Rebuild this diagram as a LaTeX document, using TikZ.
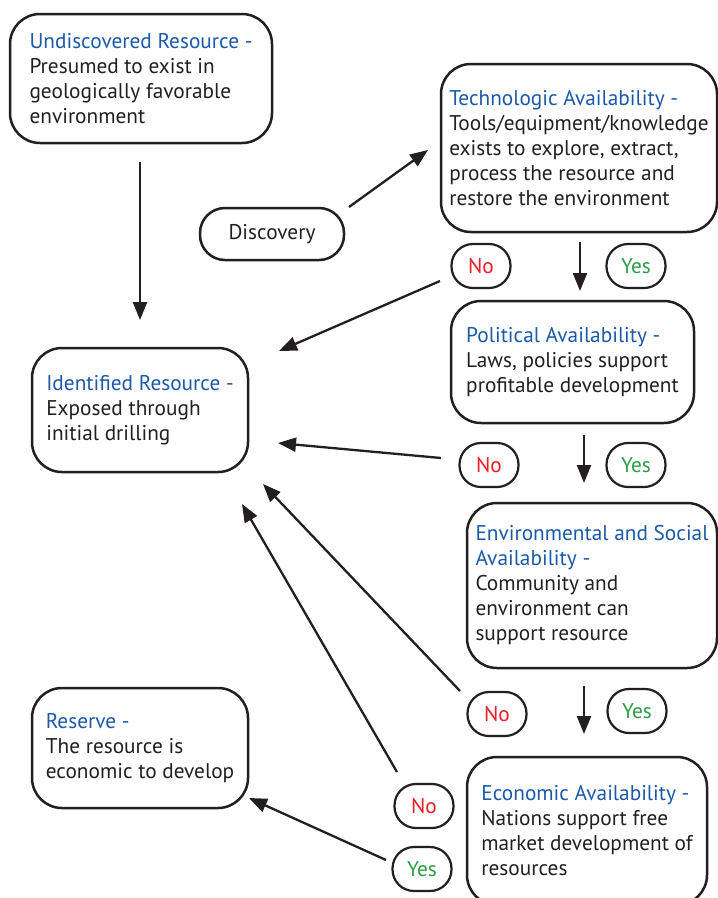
\documentclass[tikz,border=0pt]{standalone}
\usepackage{fontspec}
\setmainfont{PT Sans}
\usetikzlibrary{arrows.meta,calc}
\definecolor{ttl}{HTML}{1C5AA8}
\definecolor{txt}{HTML}{231F20}
\definecolor{nored}{HTML}{EE1C25}
\definecolor{yesgreen}{HTML}{2E9E48}
\tikzset{
  box/.style={draw=txt, line width=2.5pt, rounded corners=30pt, align=left, inner sep=0pt,
    font=\fontsize{21.3}{25}\selectfont, text=txt},
  pill/.style={draw=txt, line width=2.2pt, rounded corners=21.5pt, minimum width=59pt,
    minimum height=44pt, inner sep=0pt, font=\fontsize{21.3}{25}\selectfont},
  nopill/.style={pill, text=nored},
  yespill/.style={pill, text=yesgreen},
  arr/.style={draw=txt, line width=2.3pt, -{Triangle[length=18pt,width=14pt]}}
}
\begin{document}
\begin{tikzpicture}[x=1pt,y=-1pt]
\useasboundingbox (0,0) rectangle (718,898);
\fill[white] (0,0) rectangle (718,898);

\node[box, minimum width=262pt, minimum height=129pt, text depth=0pt] (und) at (141,78.5)
  {\textcolor{ttl}{Undiscovered Resource -}\\Presumed to exist in\\geologically favorable\\environment\rule[-5pt]{0pt}{0pt}};
\node[box, minimum width=276pt, minimum height=168pt] (tech) at (579,148)
  {\textcolor{ttl}{Technologic Availability -}\\Tools/equipment/knowledge\\exists to explore, extract,\\process the resource and\\restore the environment};
\node[box, rounded corners=25pt, minimum width=144pt, minimum height=52pt] (disc) at (272,234) {Discovery};
\node[box, minimum width=243pt, minimum height=122pt] (pol) at (572.5,362)
  {\textcolor{ttl}{Political Availability -}\\Laws, policies support\\profitable development};
\node[box, minimum width=250pt, minimum height=165pt] (env) at (592,585.5)
  {\textcolor{ttl}{Environmental and Social}\\\textcolor{ttl}{Availability -}\\Community and\\environment can\\support resource};
\node[box, minimum width=240pt, minimum height=148pt] (econ) at (587,831)
  {\textcolor{ttl}{Economic Availability -}\\Nations support free\\market development of\\resources};
\node[box, minimum width=216pt, minimum height=124pt] (ident) at (140,410)
  {\textcolor{ttl}{Identified Resource -}\\Exposed through\\initial drilling};
\node[box, minimum width=216pt, minimum height=120pt] (res) at (140,748)
  {\textcolor{ttl}{Reserve -}\\The resource is\\economic to develop};

\node[nopill] (no1) at (481,266) {No};
\node[yespill] (yes1) at (636,266) {Yes};
\node[nopill] (no2) at (489,465) {No};
\node[yespill] (yes2) at (636,465) {Yes};
\node[nopill] (no3) at (497,714) {No};
\node[yespill] (yes3) at (637,711) {Yes};
\node[nopill] (no4) at (424,806) {No};
\node[yespill] (yes4) at (422,869) {Yes};

% connector end points
\coordinate (undS) at (140,162);   \coordinate (idN) at (140,320);
\coordinate (discE) at (349,207);  \coordinate (techW) at (428,150);
\coordinate (techS) at (580,242);  \coordinate (polN) at (580,291);
\coordinate (polS) at (584,435);   \coordinate (envN) at (584,483);
\coordinate (envS) at (584,686);   \coordinate (econN) at (584,734);
\coordinate (no1W) at (440,281);   \coordinate (idA) at (279,351);
\coordinate (no2W) at (441,458);   \coordinate (idB) at (278,443);
\coordinate (no3W) at (460,691);   \coordinate (idC) at (263,484);
\coordinate (no4W) at (397,772);   \coordinate (idD) at (242,504);
\coordinate (yes4W) at (386,860);  \coordinate (resE) at (249,798);

\draw[arr] (undS) -- (idN);
\draw[arr] (discE) -- (techW);
\draw[arr] (techS) -- (polN);
\draw[arr] (polS) -- (envN);
\draw[arr] (envS) -- (econN);
\draw[arr] (no1W) -- (idA);
\draw[arr] (no2W) -- (idB);
\draw[arr] (no3W) -- (idC);
\draw[arr] (no4W) -- (idD);
\draw[arr] (yes4W) -- (resE);
\end{tikzpicture}
\end{document}
